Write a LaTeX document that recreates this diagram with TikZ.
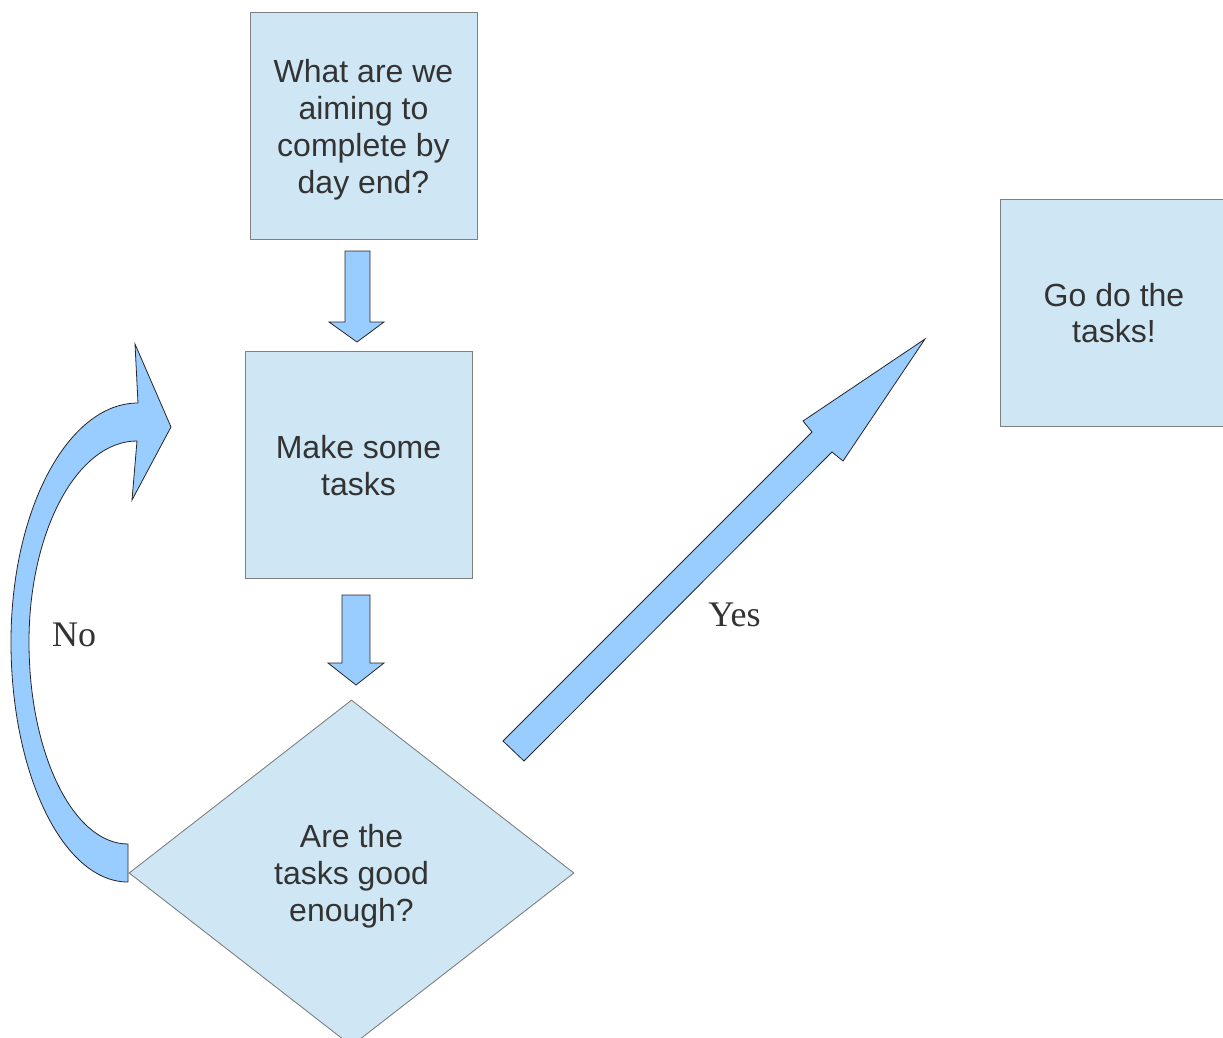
\documentclass[tikz,border=0pt]{standalone}
\usepackage{fontspec}
\setmainfont{Liberation Sans}
\newfontfamily\labelserif{Liberation Serif}
\usetikzlibrary{shapes.geometric}
\definecolor{boxfill}{HTML}{CFE7F5}
\definecolor{boxline}{HTML}{808080}
\definecolor{arrfill}{HTML}{99CCFF}
\definecolor{txt}{HTML}{333333}
\tikzset{
  stepbox/.style={rectangle, draw=boxline, fill=boxfill, line width=0.9pt,
    minimum width=227pt, minimum height=227pt, inner sep=0pt, align=center,
    text=txt, font=\fontsize{32}{36.8}\selectfont},
  decision/.style={diamond, draw=boxline, fill=boxfill, line width=0.9pt,
    minimum width=445pt, minimum height=346pt, inner sep=0pt, align=center,
    text=txt, font=\fontsize{32}{36.8}\selectfont},
  blockarrow/.style={draw=black!85, fill=arrfill, line width=0.8pt, line join=miter},
  answer/.style={text=txt, inner sep=0pt, font=\labelserif\fontsize{36}{40}\selectfont}
}
\begin{document}
\begin{tikzpicture}[x=1pt, y=-1pt]
\clip (0,0) rectangle (1223,1038);
\fill[white] (0,0) rectangle (1223,1038);

\node[stepbox] (aim) at (363.5,125.5) {\rule{0pt}{31.5pt}What are we\\aiming to\\complete by\\day end?};
\node[stepbox] (make) at (358.5,464.5) {\rule{0pt}{25pt}Make some\\tasks};
\node[stepbox] (go) at (1114,313) {Go do the\\tasks!};
\node[decision] (check) at (351.5,873) {\rule{0pt}{30pt}Are the\\tasks good\\enough?};

% down arrow 1
\draw[blockarrow] (345,251) -- (370,251) -- (370,322) -- (384,322) -- (357,342)
  -- (329,322) -- (345,322) -- cycle;
% down arrow 2
\draw[blockarrow] (342,595) -- (370,595) -- (370,663) -- (384,663) -- (356,685)
  -- (328,663) -- (342,663) -- cycle;
% yes arrow
\draw[blockarrow] (503,741) -- (812,432) -- (803,421) -- (925,339) -- (843,461)
  -- (832,452) -- (524,761) -- cycle;
% no arrow (curved)
\draw[blockarrow] (128,882) .. controls (63.4,882) and (11,774.5) .. (11,642)
  .. controls (11,510) and (67.9,403) .. (138,403)
  -- (135,344) -- (171,427) -- (132,500) -- (137,441)
  .. controls (77.4,441) and (29,531) .. (29,642)
  .. controls (29,753.6) and (73.3,844) .. (128,844) -- cycle;

\node[answer, anchor=base] (yes) at (734.5,626.5) {Yes};
\node[answer, anchor=base west] (no) at (52,646.5) {No};
\end{tikzpicture}
\end{document}
